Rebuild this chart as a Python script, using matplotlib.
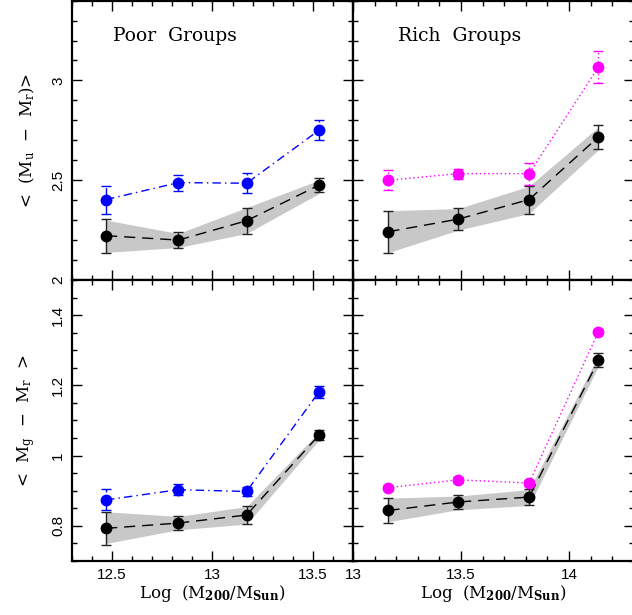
#!/usr/bin/env python3
"""Mean colour vs group halo mass, poor and rich groups."""
import matplotlib
matplotlib.use("Agg")
import matplotlib.pyplot as plt
from matplotlib.ticker import MultipleLocator, FormatStrFormatter

plt.rcParams["mathtext.fontset"] = "dejavuserif"

# log M200 of the mass bins
POOR_X = [12.47, 12.83, 13.17, 13.53]
RICH_X = [13.164, 13.487, 13.815, 14.136]

# <u - r>, poor groups
POOR_UR_BLUE = [2.403, 2.488, 2.485, 2.750]
POOR_UR_BLUE_ERR = [0.07, 0.04, 0.05, 0.05]
POOR_UR_BLACK = [2.222, 2.200, 2.297, 2.475]
POOR_UR_BLACK_ERR = [0.085, 0.04, 0.065, 0.035]
POOR_UR_BAND_LO = [2.138, 2.163, 2.233, 2.433]
POOR_UR_BAND_HI = [2.300, 2.233, 2.363, 2.500]

# <u - r>, rich groups
RICH_UR_MAG = [2.500, 2.533, 2.533, 3.067]
RICH_UR_MAG_ERR = [0.05, 0.025, 0.055, 0.08]
RICH_UR_BLACK = [2.242, 2.305, 2.403, 2.717]
RICH_UR_BLACK_ERR = [0.105, 0.055, 0.07, 0.06]
RICH_UR_BAND_LO = [2.138, 2.250, 2.333, 2.653]
RICH_UR_BAND_HI = [2.347, 2.358, 2.470, 2.767]

# <g - r>, poor groups
POOR_GR_BLUE = [0.874, 0.903, 0.898, 1.181]
POOR_GR_BLUE_ERR = [0.03, 0.015, 0.012, 0.016]
POOR_GR_BLACK = [0.793, 0.808, 0.831, 1.058]
POOR_GR_BLACK_ERR = [0.047, 0.019, 0.027, 0.014]
POOR_GR_BAND_LO = [0.750, 0.789, 0.805, 1.044]
POOR_GR_BAND_HI = [0.840, 0.827, 0.855, 1.067]

# <g - r>, rich groups
RICH_GR_MAG = [0.909, 0.931, 0.922, 1.353]
RICH_GR_MAG_ERR = [0.008, 0.008, 0.008, 0.008]
RICH_GR_BLACK = [0.844, 0.868, 0.882, 1.271]
RICH_GR_BLACK_ERR = [0.036, 0.021, 0.022, 0.02]
RICH_GR_BAND_LO = [0.812, 0.846, 0.858, 1.255]
RICH_GR_BAND_HI = [0.879, 0.885, 0.903, 1.285]

SERIF = "DejaVu Serif"
SANS = "Liberation Sans"


def draw(ax, x, yc, ec, color, dash, yk, ek, lo, hi):
    ax.fill_between(x, lo, hi, color="#c8c8c8", lw=0, zorder=1)
    ax.plot(x, yk, color="black", lw=1.0, dashes=(8, 5), zorder=2)
    ax.errorbar(x, yk, yerr=ek, fmt="o", color="black", ms=7.5,
                ecolor="#222222", elinewidth=1.0, capsize=3.5, capthick=1.0, zorder=3)
    ax.plot(x, yc, color=color, lw=1.0, dashes=dash, zorder=2)
    eb = ax.errorbar(x, yc, yerr=ec, fmt="o", color=color, ms=7.5,
                     elinewidth=1.0, capsize=3.5, capthick=1.0, zorder=3)
    eb[2][0].set_linestyle((0, dash))


def style(ax, xlim, ylim, ymaj, ymin, xlabels, ylabels):
    ax.set_xlim(*xlim)
    ax.set_ylim(*ylim)
    ax.xaxis.set_major_locator(MultipleLocator(0.5))
    ax.xaxis.set_minor_locator(MultipleLocator(0.1))
    ax.yaxis.set_major_locator(MultipleLocator(ymaj))
    ax.yaxis.set_minor_locator(MultipleLocator(ymin))
    ax.xaxis.set_major_formatter(FormatStrFormatter("%g"))
    ax.yaxis.set_major_formatter(FormatStrFormatter("%g"))
    ax.tick_params(which="both", direction="in", top=True, right=True,
                   labelbottom=xlabels, labelleft=ylabels, labelsize=11, pad=5)
    ax.tick_params(which="major", length=7, width=1.0)
    ax.tick_params(which="minor", length=3.8, width=1.0)
    for lab in ax.get_yticklabels():
        lab.set_rotation(90)
        lab.set_va("center")
        lab.set_family(SANS)
    for lab in ax.get_xticklabels():
        lab.set_family(SANS)
    for sp in ax.spines.values():
        sp.set_linewidth(1.6)


def main():
    fig = plt.figure(figsize=(6.32, 6.15), dpi=100)
    x0, xm, x1 = 72 / 632, 353 / 632, 1.003
    y0, ym, y1 = 1 - 561 / 615, 1 - 280 / 615, 0.999
    ax_tl = fig.add_axes([x0, ym, xm - x0, y1 - ym])
    ax_tr = fig.add_axes([xm, ym, x1 - xm, y1 - ym])
    ax_bl = fig.add_axes([x0, y0, xm - x0, ym - y0])
    ax_br = fig.add_axes([xm, y0, x1 - xm, ym - y0])

    dashdot = (6, 3, 1, 3)
    dotted = (1, 2)
    draw(ax_tl, POOR_X, POOR_UR_BLUE, POOR_UR_BLUE_ERR, "#0000ff", dashdot,
         POOR_UR_BLACK, POOR_UR_BLACK_ERR, POOR_UR_BAND_LO, POOR_UR_BAND_HI)
    draw(ax_tr, RICH_X, RICH_UR_MAG, RICH_UR_MAG_ERR, "#ff00ff", dotted,
         RICH_UR_BLACK, RICH_UR_BLACK_ERR, RICH_UR_BAND_LO, RICH_UR_BAND_HI)
    draw(ax_bl, POOR_X, POOR_GR_BLUE, POOR_GR_BLUE_ERR, "#0000ff", dashdot,
         POOR_GR_BLACK, POOR_GR_BLACK_ERR, POOR_GR_BAND_LO, POOR_GR_BAND_HI)
    draw(ax_br, RICH_X, RICH_GR_MAG, RICH_GR_MAG_ERR, "#ff00ff", dotted,
         RICH_GR_BLACK, RICH_GR_BLACK_ERR, RICH_GR_BAND_LO, RICH_GR_BAND_HI)

    style(ax_tl, (12.3, 13.7), (2.0, 3.4), 0.5, 0.1, False, True)
    style(ax_tr, (13.0, 14.3), (2.0, 3.4), 0.5, 0.1, False, False)
    style(ax_bl, (12.3, 13.7), (0.7, 1.5), 0.2, 0.05, True, True)
    style(ax_br, (13.0, 14.3), (0.7, 1.5), 0.2, 0.05, True, False)

    ax_tl.text(0.145, 0.875, "Poor  Groups", transform=ax_tl.transAxes,
               family=SERIF, fontsize=13.5, va="center")
    ax_tr.text(0.16, 0.875, "Rich  Groups", transform=ax_tr.transAxes,
               family=SERIF, fontsize=13.5, va="center")

    ax_tl.set_ylabel(r"<  (M$_\mathregular{u}$  $-$  M$_\mathregular{r}$)>",
                     family=SERIF, fontsize=12, labelpad=10)
    ax_bl.set_ylabel(r"<  M$_\mathregular{g}$  $-$  M$_\mathregular{r}$  >",
                     family=SERIF, fontsize=12, labelpad=10)
    xl = r"Log  (M$_\mathbf{200}$/M$_\mathbf{Sun}$)"
    ax_bl.set_xlabel(xl, family=SERIF, fontsize=12, labelpad=1)
    ax_br.set_xlabel(xl, family=SERIF, fontsize=12, labelpad=1)

    fig.savefig("out.png", dpi=100)


if __name__ == "__main__":
    main()
